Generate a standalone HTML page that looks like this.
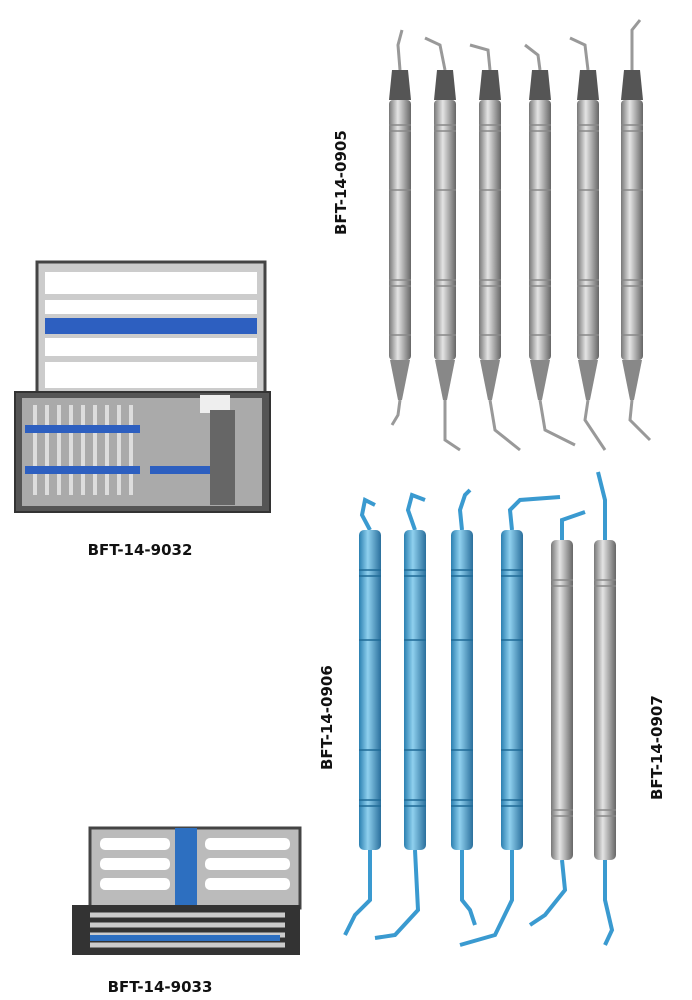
<!DOCTYPE html>
<html><head><meta charset="utf-8"><style>
html,body{margin:0;padding:0;background:#fff}
svg{display:block}
text{font-family:"DejaVu Sans","Liberation Sans",sans-serif;font-weight:bold;fill:#111}
</style></head><body>
<svg width="692" height="1000" viewBox="0 0 692 1000" xmlns="http://www.w3.org/2000/svg">
<defs>
<linearGradient id="g" x1="0" x2="1"><stop offset="0" stop-color="#777"/><stop offset=".4" stop-color="#e4e4e4"/><stop offset="1" stop-color="#666"/></linearGradient>
<linearGradient id="b" x1="0" x2="1"><stop offset="0" stop-color="#2a7fb0"/><stop offset=".4" stop-color="#8fd0ee"/><stop offset="1" stop-color="#2a6f9c"/></linearGradient>
<g id="gi">
<path d="M-11,100 L-8,70 L8,70 L11,100 Z" fill="#555"/>
<rect x="-11" y="100" width="22" height="260" rx="4" fill="url(#g)"/>
<g stroke="#888" stroke-width="1.5"><line x1="-11" y1="125" x2="11" y2="125"/><line x1="-11" y1="131" x2="11" y2="131"/><line x1="-11" y1="190" x2="11" y2="190"/><line x1="-11" y1="280" x2="11" y2="280"/><line x1="-11" y1="286" x2="11" y2="286"/><line x1="-11" y1="335" x2="11" y2="335"/></g>
<path d="M-10,360 L-2,400 L2,400 L10,360 Z" fill="#888"/>
</g>
<g id="bi">
<rect x="-11" y="0" width="22" height="320" rx="5" fill="url(#b)"/>
<g stroke="#1f6a96" stroke-width="1.5"><line x1="-11" y1="40" x2="11" y2="40"/><line x1="-11" y1="46" x2="11" y2="46"/><line x1="-11" y1="110" x2="11" y2="110"/><line x1="-11" y1="220" x2="11" y2="220"/><line x1="-11" y1="270" x2="11" y2="270"/><line x1="-11" y1="276" x2="11" y2="276"/></g>
</g>
<g id="si">
<rect x="-11" y="0" width="22" height="320" rx="5" fill="url(#g)"/>
<g stroke="#888" stroke-width="1.5"><line x1="-11" y1="40" x2="11" y2="40"/><line x1="-11" y1="46" x2="11" y2="46"/><line x1="-11" y1="270" x2="11" y2="270"/><line x1="-11" y1="276" x2="11" y2="276"/></g>
</g>
</defs>

<!-- top gray instruments -->
<g fill="none" stroke="#999" stroke-width="3">
<path d="M400,70 L398,45 L402,30"/><path d="M445,70 L440,45 L425,38"/><path d="M490,70 L488,50 L470,45"/><path d="M540,70 L538,55 L525,45"/><path d="M588,70 L585,45 L570,38"/><path d="M632,70 L632,30 L640,20"/>
<path d="M400,400 L398,415 L392,425"/><path d="M445,400 L445,440 L460,450"/><path d="M490,400 L495,430 L520,450"/><path d="M540,400 L545,430 L575,445"/><path d="M588,400 L585,420 L605,450"/><path d="M632,400 L630,420 L650,440"/>
</g>
<use href="#gi" x="400"/><use href="#gi" x="445"/><use href="#gi" x="490"/><use href="#gi" x="540"/><use href="#gi" x="588"/><use href="#gi" x="632"/>
<text transform="translate(346,235) rotate(-90)" font-size="15">BFT-14-0905</text>

<!-- big cassette -->
<rect x="37" y="262" width="228" height="132" fill="#ccc" stroke="#444" stroke-width="3"/>
<g fill="#fff">
<rect x="45" y="272" width="212" height="22"/><rect x="45" y="300" width="212" height="14"/><rect x="45" y="338" width="212" height="18"/><rect x="45" y="362" width="212" height="26"/>
</g>
<rect x="45" y="318" width="212" height="16" fill="#2d5fc0"/>
<rect x="15" y="392" width="255" height="120" fill="#555" stroke="#333" stroke-width="2"/>
<rect x="22" y="398" width="240" height="108" fill="#aaa"/>
<g stroke="#ddd" stroke-width="4">
<line x1="35" y1="405" x2="35" y2="495"/><line x1="47" y1="405" x2="47" y2="495"/><line x1="59" y1="405" x2="59" y2="495"/><line x1="71" y1="405" x2="71" y2="495"/><line x1="83" y1="405" x2="83" y2="495"/><line x1="95" y1="405" x2="95" y2="495"/><line x1="107" y1="405" x2="107" y2="495"/><line x1="119" y1="405" x2="119" y2="495"/><line x1="131" y1="405" x2="131" y2="495"/>
</g>
<rect x="25" y="425" width="115" height="8" fill="#2d5fc0"/><rect x="25" y="466" width="115" height="8" fill="#2d5fc0"/>
<rect x="150" y="466" width="70" height="8" fill="#2d5fc0"/>
<rect x="200" y="395" width="30" height="18" fill="#eee"/><rect x="210" y="410" width="25" height="95" fill="#666"/>
<text x="140" y="555" font-size="15" text-anchor="middle">BFT-14-9032</text>

<!-- blue instruments -->
<g fill="none" stroke="#3a9ad0" stroke-width="4">
<path d="M370,530 L362,515 L365,500 L375,505"/><path d="M415,530 L408,510 L412,495 L425,500"/><path d="M462,530 L460,510 L465,495 L470,490"/><path d="M512,530 L510,510 L520,500 L560,497"/><path d="M562,540 L562,520 L585,512"/><path d="M605,560 L605,500 L598,472"/>
<path d="M370,850 L370,900 L355,915 L345,935"/><path d="M415,850 L418,910 L395,935 L375,938"/><path d="M462,850 L462,900 L470,910 L475,925"/><path d="M512,850 L512,900 L495,935 L460,945"/><path d="M562,860 L565,890 L545,915 L530,925"/><path d="M605,860 L605,900 L612,930 L605,945"/>
</g>
<use href="#bi" x="370" y="530"/><use href="#bi" x="415" y="530"/><use href="#bi" x="462" y="530"/><use href="#bi" x="512" y="530"/>
<use href="#si" x="562" y="540"/><use href="#si" x="605" y="540"/>
<text transform="translate(332,770) rotate(-90)" font-size="15">BFT-14-0906</text>
<text transform="translate(662,800) rotate(-90)" font-size="15">BFT-14-0907</text>

<!-- small cassette -->
<rect x="90" y="828" width="210" height="80" fill="#bbb" stroke="#444" stroke-width="3"/>
<g fill="#fff">
<rect x="100" y="838" width="70" height="12" rx="5"/><rect x="205" y="838" width="85" height="12" rx="5"/>
<rect x="100" y="858" width="70" height="12" rx="5"/><rect x="205" y="858" width="85" height="12" rx="5"/>
<rect x="100" y="878" width="70" height="12" rx="5"/><rect x="205" y="878" width="85" height="12" rx="5"/>
</g>
<rect x="175" y="828" width="22" height="80" fill="#2d6fc0"/>
<rect x="72" y="905" width="228" height="50" fill="#333"/>
<g stroke="#ccc" stroke-width="5"><line x1="90" y1="915" x2="285" y2="915"/><line x1="90" y1="925" x2="285" y2="925"/><line x1="90" y1="935" x2="285" y2="935"/><line x1="90" y1="945" x2="285" y2="945"/></g>
<rect x="90" y="935" width="190" height="6" fill="#2d6fc0"/>
<text x="160" y="992" font-size="15" text-anchor="middle">BFT-14-9033</text>
</svg>
</body></html>
